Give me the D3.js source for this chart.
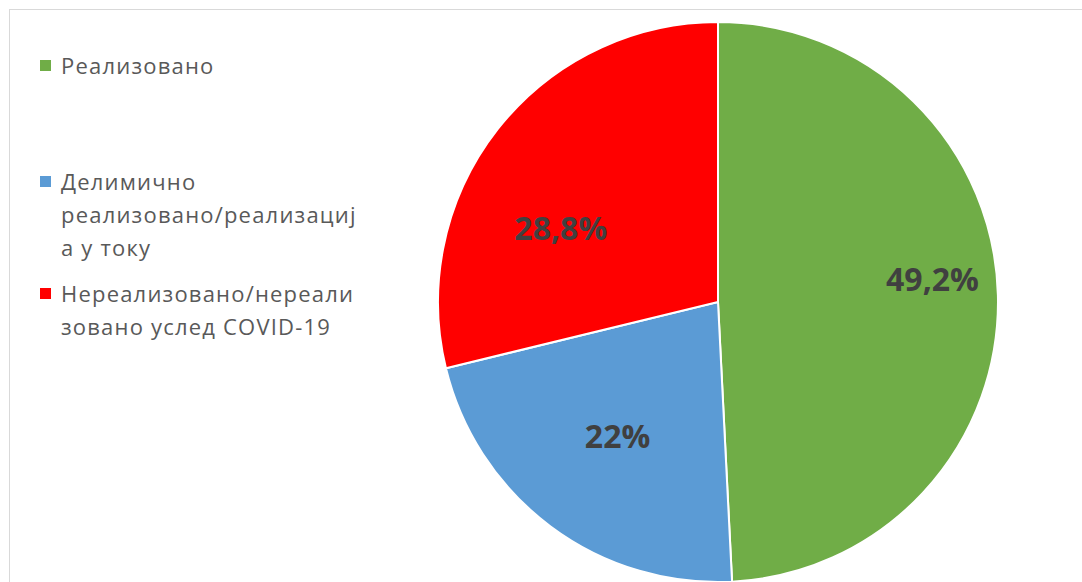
<!DOCTYPE html>
<html>
<head>
<meta charset="utf-8">
<script src="https://cdn.jsdelivr.net/npm/d3@7"></script>
<style>
    body { margin: 0; background: #fff; }
    svg { display: block; }
</style>
</head>
<body>
<svg id="chart" width="1082" height="582"></svg>
<script>
// categories and values (percent)
var categories = ["Реализовано", "Делимично реализовано/реализација у току", "Нереализовано/нереализовано услед COVID-19"];
var values = [49.2, 22, 28.8];
var valueLabels = ["49,2%", "22%", "28,8%"];
var colors = ["#70ad47", "#5b9bd5", "#ff0000"];
// legend lines as wrapped in the original
var legendLines = [
    ["Реализовано"],
    ["Делимично", "реализовано/реализациј", "а у току"],
    ["Нереализовано/нереали", "зовано услед COVID-19"]
];

var svg = d3.select("#chart");
var W = 1082, H = 582;

// chart frame
svg.append("rect")
    .attr("x", 9.5).attr("y", 9.5)
    .attr("width", W).attr("height", H)
    .attr("fill", "#fff")
    .attr("stroke", "#d9d9d9")
    .attr("stroke-width", 1);

var cx = 718, cy = 302, r = 280;

var pie = d3.pie().sort(null).value(function(d) { return d; });
var arc = d3.arc().innerRadius(0).outerRadius(r);
var arcs = pie(values);

var g = svg.append("g").attr("transform", "translate(" + cx + "," + cy + ")");

g.selectAll("path.slice")
    .data(arcs)
    .enter().append("path")
    .attr("class", "slice")
    .attr("d", arc)
    .attr("fill", function(d, i) { return colors[i]; })
    .attr("stroke", "#fff")
    .attr("stroke-width", 2);

// data labels: radius as fraction of r, angle as fraction across the slice
var labelRad = [0.77, 0.60, 0.62];
var labelAng = [0.475, 0.5, 0.374];
g.selectAll("text.lbl")
    .data(arcs)
    .enter().append("text")
    .attr("class", "lbl")
    .attr("transform", function(d, i) {
        var a = d.startAngle + (d.endAngle - d.startAngle) * labelAng[i];
        var rr = r * labelRad[i];
        return "translate(" + (rr * Math.sin(a)) + "," + (-rr * Math.cos(a)) + ")";
    })
    .attr("text-anchor", "middle")
    .attr("dy", "0.36em")
    .attr("font-family", "'Open Sans', sans-serif")
    .attr("font-weight", "bold")
    .attr("font-size", 32)
    .attr("fill", "#404040")
    .text(function(d, i) { return valueLabels[i]; });

// legend
var legendTop = [74, 190, 302];
var lineH = 33;
var legend = svg.append("g").attr("class", "legend");
categories.forEach(function(c, i) {
    var item = legend.append("g");
    item.append("rect")
        .attr("x", 40).attr("y", legendTop[i] - 14)
        .attr("width", 11).attr("height", 11)
        .attr("fill", colors[i]);
    var t = item.append("text")
        .attr("x", 61).attr("y", legendTop[i])
        .attr("font-family", "'Open Sans', sans-serif")
        .attr("font-size", 22)
        .attr("letter-spacing", 1.2)
        .attr("fill", "#595959");
    legendLines[i].forEach(function(line, j) {
        t.append("tspan")
            .attr("x", 61)
            .attr("y", legendTop[i] + j * lineH)
            .text(line);
    });
});
</script>
</body>
</html>
